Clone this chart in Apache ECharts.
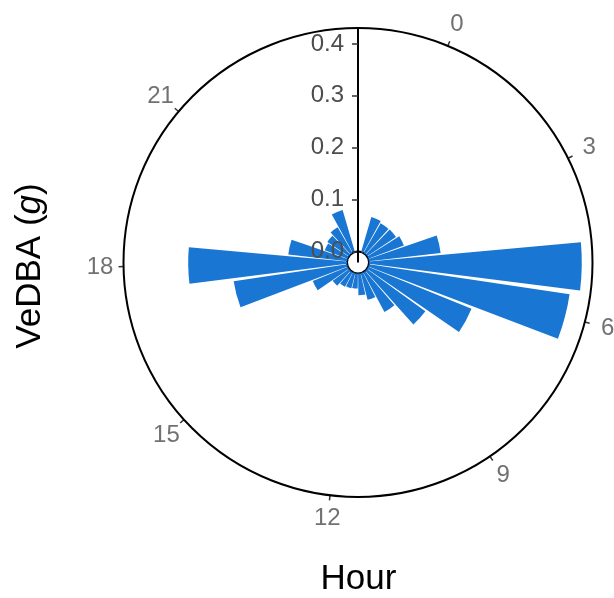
<!DOCTYPE html>
<html><head><meta charset="utf-8">
<script src="https://cdn.jsdelivr.net/npm/echarts@6/dist/echarts.min.js"></script>
<style>html,body{margin:0;padding:0;background:#fff}#c{width:614px;height:598px}</style>
</head><body><div id="c"></div>
<script>
// ---- data ----
const hours = [0,1,2,3,4,5,6,7,8,9,10,11,12,13,14,15,16,17,18,19,20,21,22,23];
const vedba = [0.070,0.066,0.067,0.073,0.139,0.410,0.391,0.215,0.139,0.087,0.053,0.042,
               0.029,0.030,0.032,0.039,0.073,0.221,0.306,0.114,0.047,0.050,0.057,0.084];
const hourTicks = [0,3,6,9,12,15,18,21];
const radialTicks = [0,0.1,0.2,0.3,0.4];
const hourRange = [-1.645, 24.645];
const radialMax = 0.4306;
const labelRadius = 0.476;
const barFraction = 0.9;

const FONT = 'Liberation Sans, Arial, sans-serif';
const chart = echarts.init(document.getElementById('c'), null, {renderer:'canvas'});
const barDeg = barFraction * 360 / (hourRange[1] - hourRange[0]);

chart.setOption({
  animation: false,
  backgroundColor: '#ffffff',
  polar: { center: [358, 262.5], radius: [11, 234.5] },
  angleAxis: {
    type: 'value', min: hourRange[0], max: hourRange[1],
    startAngle: 90, clockwise: true,
    axisLine: { show: true, lineStyle: { color: '#000', width: 2 } },
    axisTick: { show: true, customValues: hourTicks, length: 5, lineStyle: { color: '#333', width: 1.5 } },
    axisLabel: { show: false },
    splitLine: { show: false }
  },
  radiusAxis: {
    type: 'value', min: 0, max: radialMax, z: 10,
    axisLine: { show: true, lineStyle: { color: '#000', width: 2 } },
    axisTick: { show: true, customValues: radialTicks, length: 6, lineStyle: { color: '#333', width: 1.5 } },
    axisLabel: { show: true, customValues: radialTicks, margin: 14, color: '#4D4D4D', fontSize: 24, fontFamily: FONT,
                 formatter: v => Number(v).toFixed(1) },
    splitLine: { show: false }
  },
  series: [
    {
      type: 'bar', coordinateSystem: 'polar',
      data: hours.map((h, i) => [vedba[i], h]),
      barWidth: barDeg,
      itemStyle: { color: '#1976D2' },
      z: 2
    },
    {
      type: 'scatter', coordinateSystem: 'polar', clip: false, silent: true,
      symbolSize: 0,
      data: hourTicks.map(h => [labelRadius, h]),
      label: { show: true, position: 'inside', formatter: p => String(p.value[1]),
               color: '#4D4D4D', fontSize: 24, fontFamily: FONT },
      z: 5
    }
  ],
  graphic: [
    { type: 'line', shape: { x1: 358, y1: 262.5, x2: 358, y2: 251 }, style: { stroke: '#000', lineWidth: 2 }, z: 100 },
    { type: 'text', x: 358.5, y: 579,
      style: { text: 'Hour', fill: '#000', font: '35px ' + FONT, align: 'center', verticalAlign: 'middle' } },
    { type: 'text', x: 30, y: 266, rotation: Math.PI / 2,
      style: { text: '{a|VeDBA (}{b|g}{a|)}', fill: '#000', align: 'center', verticalAlign: 'middle',
        rich: { a: { fontSize: 35, fontFamily: FONT, fill: '#000' },
                b: { fontSize: 35, fontFamily: FONT, fontStyle: 'italic', fill: '#000' } } } }
  ]
});
</script></body></html>
